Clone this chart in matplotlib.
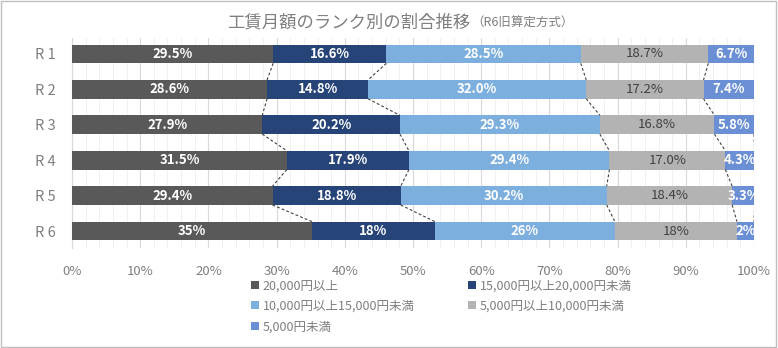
import matplotlib.pyplot as plt
import numpy as np
from matplotlib.patches import Rectangle

plt.rcParams['font.family'] = ['Noto Sans CJK JP', 'DejaVu Sans']

categories = ["R 1", "R 2", "R 3", "R 4", "R 5", "R 6"]
series_names = ["20,000円以上", "15,000円以上20,000円未満", "10,000円以上15,000円未満",
                "5,000円以上10,000円未満", "5,000円未満"]
over20k = [29.5, 28.6, 27.9, 31.5, 29.4, 35.2]
r15_20k = [16.6, 14.8, 20.2, 17.9, 18.8, 18.0]
r10_15k = [28.5, 32.0, 29.3, 29.4, 30.2, 26.4]
r5_10k = [18.7, 17.2, 16.8, 17.0, 18.4, 17.9]
under5k = [6.7, 7.4, 5.8, 4.3, 3.3, 2.5]
# R6 labels are shown without decimals
label_fmt = ["{:.1f}%"] * 5 + ["{:.0f}%"]

colors = ["#595959", "#264478", "#7DAFDE", "#B3B3B3", "#6A8FD4"]
text_colors = ["white", "white", "white", "#404040", "white"]
text_weights = ["bold", "bold", "bold", "normal", "bold"]

data = np.array([over20k, r15_20k, r10_15k, r5_10k, under5k])

fig = plt.figure(figsize=(7.78, 3.48), dpi=100)
ax = fig.add_axes([72 / 778, 1 - 248 / 348, 682 / 778, 210 / 348])

y = np.arange(len(categories))
h = 0.53
left = np.zeros(len(categories))
for j in range(len(series_names)):
    ax.barh(y, data[j], left=left, height=h, color=colors[j], label=series_names[j], zorder=3)
    for i in range(len(categories)):
        ax.text(left[i] + data[j][i] / 2, y[i], label_fmt[i].format(data[j][i]),
                ha="center", va="center", color=text_colors[j], fontsize=9.5,
                fontweight=text_weights[j], zorder=5)
    left = left + data[j]

# series lines between bars
cum = np.cumsum(data, axis=0)
for j in range(len(series_names)):
    for i in range(len(categories) - 1):
        ax.plot([cum[j][i], cum[j][i + 1]], [y[i] + h / 2, y[i + 1] - h / 2],
                color="#404040", linestyle=(0, (2.5, 2)), linewidth=0.8, zorder=4)

ax.set_xlim(0, 100)
ax.set_ylim(5.48, -0.45)
ax.set_xticks(np.arange(0, 101, 10))
ax.set_xticklabels([f"{v}%" for v in range(0, 101, 10)])
ax.set_xticks(np.arange(0, 101, 2), minor=True)
ax.grid(axis="x", which="major", color="#D9D9D9", linewidth=0.8, zorder=0)
ax.grid(axis="x", which="minor", color="#EEEEEE", linewidth=0.6, zorder=0)
ax.set_yticks(y)
ax.set_yticklabels(categories)
ax.tick_params(axis="both", length=0, colors="#7F7F7F", labelsize=9.5)
ax.tick_params(axis="y", labelsize=10.5)
ax.tick_params(axis="x", which="minor", length=0)
ax.tick_params(axis="x", pad=12)
ax.tick_params(axis="y", pad=12)
for s in ["top", "right", "bottom"]:
    ax.spines[s].set_visible(False)
ax.spines["left"].set_color("#D9D9D9")

fig.text(470 / 778, 0.935, "工賃月額のランク別の割合推移", ha="right", va="center",
         fontsize=12.5, color="#7F7F7F")
fig.text(471 / 778, 0.932, "（R6旧算定方式）", ha="left", va="center",
         fontsize=9, color="#7F7F7F")

handles, labels = ax.get_legend_handles_labels()
order = [0, 2, 4, 1, 3]
fig.legend([handles[k] for k in order], [labels[k] for k in order], ncol=2, loc="upper left",
           bbox_to_anchor=(240 / 778, 1 - 268 / 348),
           frameon=False, fontsize=9, labelcolor="#7F7F7F", handlelength=0.6, handleheight=0.6,
           handletextpad=0.3, columnspacing=4.3, labelspacing=0.6)

fig.patches.append(Rectangle((0.001, 0.003), 0.997, 0.995, transform=fig.transFigure,
                             fill=False, edgecolor="#BFBFBF", linewidth=1))

fig.savefig("out.png", dpi=100)
